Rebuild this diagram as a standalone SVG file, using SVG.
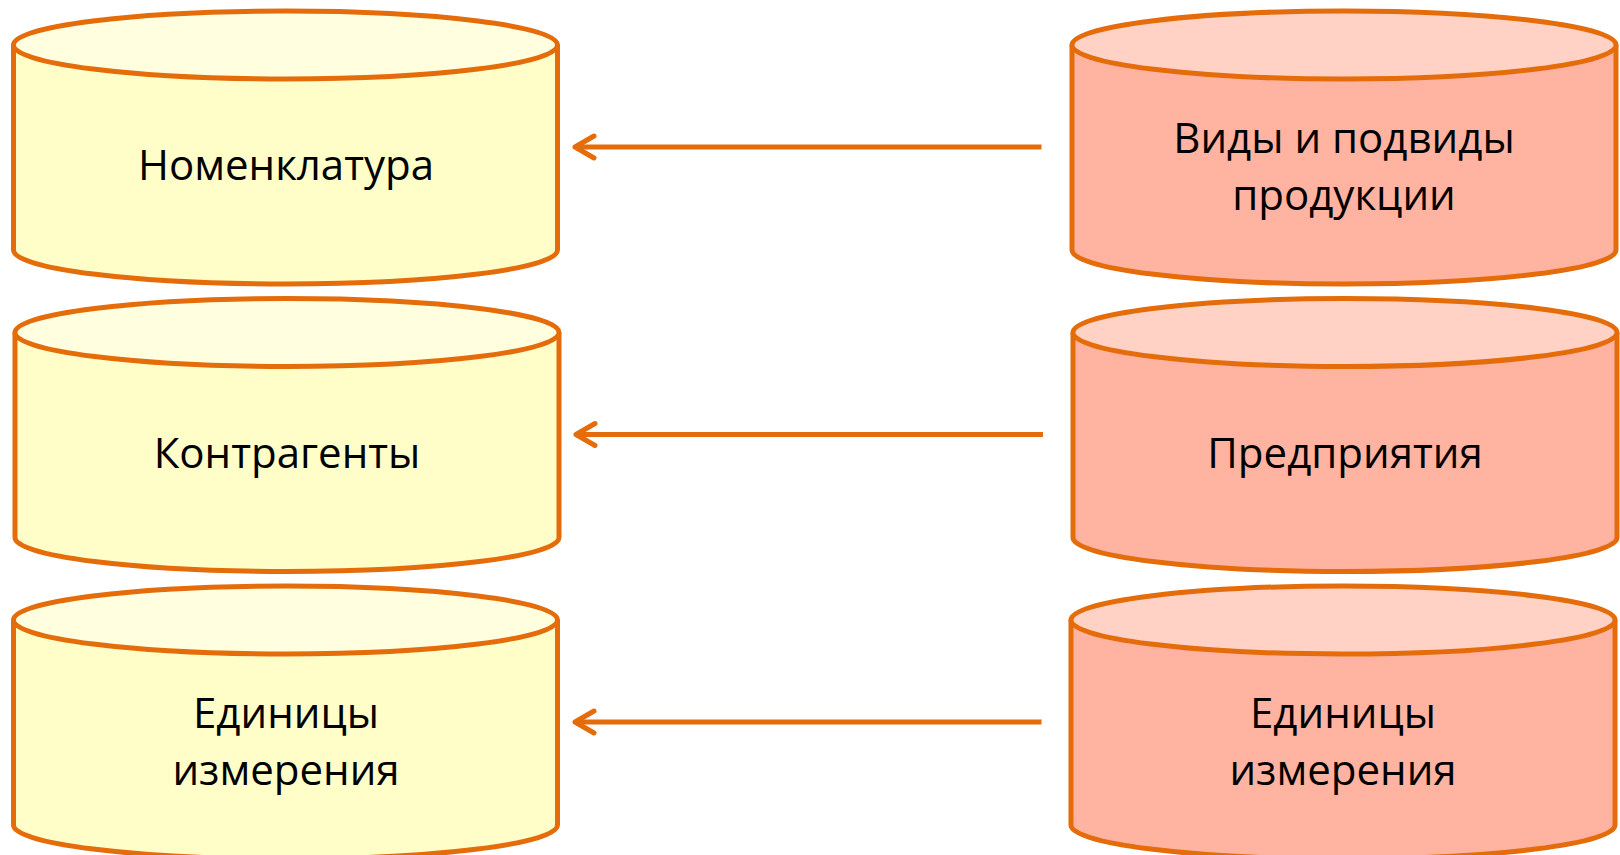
<svg xmlns="http://www.w3.org/2000/svg" width="1620" height="855" viewBox="0 0 1620 855">
<style>
.stroke{stroke:#E46C0A;stroke-width:5;stroke-linejoin:round}
.lbody{fill:#FFFDC8}
.ltop{fill:#FFFEDF}
.rbody{fill:#FFB3A0}
.rtop{fill:#FFD2C5}
.lbl{font-family:"Open Sans","Noto Sans","DejaVu Sans",sans-serif;font-size:42px;fill:#000;text-anchor:middle}
.conn{stroke:#E46C0A;stroke-width:5;fill:none}
</style>
<defs>
<marker id="chev" markerUnits="userSpaceOnUse" viewBox="-26 -16 30 32" refX="0" refY="0" markerWidth="30" markerHeight="32" orient="auto" overflow="visible">
<path d="M-19,-11 L0,0 L-19,11" fill="none" stroke="#E46C0A" stroke-width="5" stroke-linecap="round" stroke-linejoin="round"/>
</marker>
</defs>
<rect width="1620" height="855" fill="#FFFFFF"/>
<g id="connectors">
<line class="conn" x1="1041.5" y1="147" x2="575" y2="147" marker-end="url(#chev)"/>
<line class="conn" x1="1043" y1="434.5" x2="576" y2="434.5" marker-end="url(#chev)"/>
<line class="conn" x1="1041.5" y1="722" x2="575" y2="722" marker-end="url(#chev)"/>
</g>
<g id="nomenklatura">
<path class="stroke lbody" d="M13.5,45 V250 A272,34 0 0 0 557.5,250 V45"/>
<ellipse class="stroke ltop" cx="285.5" cy="45" rx="272" ry="34"/>
<text class="lbl" x="286" y="180">Номенклатура</text>
</g>
<g id="kontragenty">
<path class="stroke lbody" d="M15,332.5 V537.5 A272,34 0 0 0 559,537.5 V332.5"/>
<ellipse class="stroke ltop" cx="287" cy="332.5" rx="272" ry="34"/>
<text class="lbl" x="287" y="467.5">Контрагенты</text>
</g>
<g id="edinicy-left">
<path class="stroke lbody" d="M13.5,620 V825 A272,34 0 0 0 557.5,825 V620"/>
<ellipse class="stroke ltop" cx="285.5" cy="620" rx="272" ry="34"/>
<text class="lbl" x="286" y="728">Единицы</text>
<text class="lbl" x="286" y="785">измерения</text>
</g>
<g id="vidy">
<path class="stroke rbody" d="M1072,45 V250 A272,34 0 0 0 1616,250 V45"/>
<ellipse class="stroke rtop" cx="1344" cy="45" rx="272" ry="34"/>
<text class="lbl" x="1344" y="153">Виды и подвиды</text>
<text class="lbl" x="1344" y="210">продукции</text>
</g>
<g id="predpriyatiya">
<path class="stroke rbody" d="M1073,332.5 V537.5 A272,34 0 0 0 1617,537.5 V332.5"/>
<ellipse class="stroke rtop" cx="1345" cy="332.5" rx="272" ry="34"/>
<text class="lbl" x="1345" y="467.5">Предприятия</text>
</g>
<g id="edinicy-right">
<path class="stroke rbody" d="M1071,620 V825 A272,34 0 0 0 1615,825 V620"/>
<ellipse class="stroke rtop" cx="1343" cy="620" rx="272" ry="34"/>
<text class="lbl" x="1343" y="728">Единицы</text>
<text class="lbl" x="1343" y="785">измерения</text>
</g>
</svg>
